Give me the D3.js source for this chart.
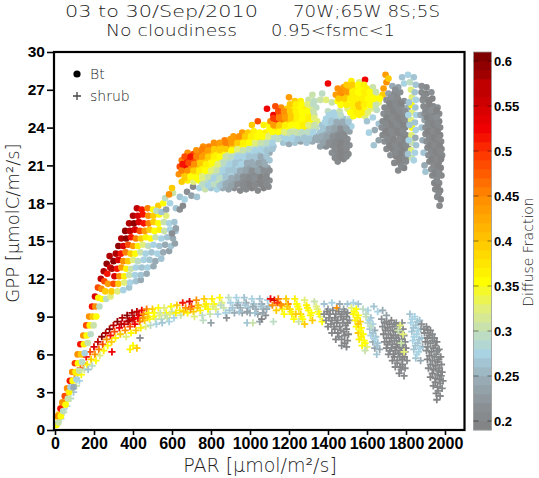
<!DOCTYPE html>
<html>
<head>
<meta charset="utf-8">
<script src="https://cdn.jsdelivr.net/npm/d3@7"></script>
<style>
  body { margin: 0; background: white; }
</style>
</head>
<body>
<div id="container"></div>
<script>
let w = 539;
let h = 478;

let xTicks = [0, 200, 400, 600, 800, 1000, 1200, 1400, 1600, 1800, 2000];
let yTicks = [0, 3, 6, 9, 12, 15, 18, 21, 24, 27, 30];
let cbTicks = [0.2, 0.25, 0.3, 0.35, 0.4, 0.45, 0.5, 0.55, 0.6];
let legendNames = ["Bt", "shrub"];
let titleLeft = ["03 to 30/Sep/2010", "No cloudiness"];
let titleRight = ["70W;65W 8S;5S", "0.95<fsmc<1"];

// [PAR, GPP, diffuse fraction]
let btPoints = [
  // rise from origin
  [8,0.4,.36],[15,1.1,.45],[18,0.6,.31],[28,1.7,.52],[30,1.1,.36],[38,2.2,.45],[42,1.5,.30],[50,2.7,.49],[54,2.0,.36],
  [62,3.3,.45],[66,2.5,.31],[72,3.0,.37],[76,3.9,.52],[80,3.4,.28],[88,4.6,.45],[90,3.9,.36],[95,3.4,.25],[102,5.3,.50],
  [105,4.6,.37],[110,4.0,.28],[116,6.0,.45],[118,5.3,.36],[124,4.7,.31],[130,6.8,.52],[133,6.0,.40],[138,5.4,.30],
  [145,7.5,.45],[148,6.8,.37],[152,6.1,.28],[160,8.3,.49],[162,7.5,.36],[168,6.9,.31],[175,9.0,.45],[178,8.3,.37],
  [183,7.6,.30],[190,9.8,.52],[193,9.0,.40],[198,8.3,.31],[205,10.6,.55],[207,9.8,.45],[212,9.0,.36],[220,11.3,.49],
  [222,10.5,.37],[228,9.8,.30],[235,12.0,.57],[238,11.2,.45],[243,10.4,.36],[250,12.6,.58],[253,11.8,.49],[258,11.0,.40],
  [262,10.4,.30],[265,13.2,.60],[268,12.4,.52],[272,11.6,.44],[280,13.8,.58],[283,12.9,.55],[285,10.6,.33],
  // lower blob
  [290,11.0,.40],[320,11.0,.33],[350,11.1,.28],[380,11.3,.27],
  [300,11.6,.49],[325,11.6,.40],[355,11.7,.33],[385,11.7,.28],[415,11.8,.27],[440,11.9,.25],
  [305,12.2,.55],[330,12.2,.45],[355,12.2,.37],[380,12.3,.31],[410,12.3,.28],[440,12.3,.27],[470,12.4,.25],
  [292,12.8,.58],[318,12.8,.52],[340,12.9,.44],[365,12.8,.37],[390,12.8,.31],[415,12.9,.28],[445,12.9,.27],[475,12.9,.28],[505,13.0,.25],
  [300,13.4,.60],[325,13.5,.55],[350,13.4,.45],[375,13.4,.40],[400,13.5,.33],[425,13.4,.30],[455,13.5,.28],[485,13.5,.27],[515,13.4,.25],[545,13.6,.27],
  [312,14.0,.58],[338,14.0,.52],[362,14.1,.46],[388,14.0,.40],[412,14.0,.36],[438,14.1,.31],[465,14.0,.28],[495,14.1,.27],[525,14.0,.28],[555,14.1,.25],[585,14.2,.24],
  [325,14.6,.60],[350,14.6,.55],[375,14.7,.49],[400,14.6,.44],[425,14.6,.37],[450,14.7,.33],[478,14.6,.30],[505,14.7,.28],[535,14.6,.27],[565,14.7,.25],[595,14.6,.27],[615,14.8,.24],
  [340,15.2,.58],[365,15.2,.60],[390,15.3,.52],[415,15.2,.46],[440,15.2,.40],[465,15.3,.37],[490,15.2,.36],[515,15.3,.31],[545,15.2,.28],[575,15.3,.27],[605,15.2,.25],
  [360,15.8,.60],[385,15.8,.57],[410,15.9,.55],[435,15.8,.49],[460,15.8,.44],[485,15.9,.40],[510,15.8,.36],[535,15.9,.37],[560,15.8,.31],[590,15.9,.28],[618,15.8,.27],
  [380,16.4,.58],[405,16.4,.60],[430,16.5,.55],[455,16.4,.52],[480,16.4,.46],[505,16.5,.40],[530,16.4,.36],[558,16.5,.31],[585,16.4,.28],[612,16.5,.27],
  [400,17.0,.58],[425,17.0,.55],[450,17.1,.52],[478,17.0,.45],[505,17.0,.40],[535,17.1,.36],[570,17.0,.33],
  [420,17.6,.57],[445,17.5,.52],[475,17.6,.46],[620,16.0,.24],[600,15.6,.22],
  // sparse bridge
  [503,17.5,.36],[530,17.8,.40],[555,18.0,.36],[565,18.4,.30],[590,18.0,.28],[605,18.8,.31],[620,17.6,.27],[640,17.5,.22],
  [656,17.8,.21],[640,18.5,.27],[665,18.3,.28],[677,18.9,.22],[700,18.6,.24],[708,19.3,.21],[728,18.5,.27],[600,19.2,.40],
  [585,18.7,.45],[520,17.4,.30],[545,17.3,.27],[570,17.5,.24],
  // main band
  [740,19.2,.28],[770,19.1,.31],[800,19.2,.27],[830,19.1,.28],[860,19.2,.25],[890,19.1,.24],[920,19.2,.22],[950,19.0,.21],[980,19.1,.21],[1010,19.2,.20],[1040,19.0,.21],[1070,19.2,.20],[1095,19.3,.21],
  [650,19.7,.40],[680,19.8,.37],[710,19.7,.33],[740,19.8,.36],[770,19.7,.30],[800,19.8,.28],[830,19.7,.31],[860,19.8,.27],[890,19.7,.25],[920,19.8,.24],[950,19.7,.22],[980,19.8,.21],[1010,19.7,.22],[1040,19.8,.20],[1070,19.7,.21],[1100,19.8,.22],
  [635,20.3,.45],[665,20.3,.40],[695,20.4,.36],[725,20.3,.37],[755,20.3,.33],[785,20.4,.36],[815,20.3,.30],[845,20.3,.28],[875,20.4,.27],[905,20.3,.28],[935,20.3,.25],[965,20.4,.24],[995,20.3,.22],[1025,20.3,.21],[1055,20.4,.24],[1085,20.3,.21],
  [640,20.9,.49],[670,20.8,.53],[700,20.9,.45],[730,20.8,.40],[760,20.9,.37],[790,20.8,.36],[820,20.9,.33],[850,20.8,.30],[880,20.9,.28],[910,20.8,.27],[940,20.9,.28],[970,20.8,.25],[1000,20.9,.24],[1030,20.8,.25],[1060,20.9,.22],[1090,20.8,.24],
  [650,21.4,.46],[680,21.4,.52],[710,21.5,.49],[740,21.4,.44],[770,21.4,.40],[800,21.5,.37],[830,21.4,.36],[860,21.4,.31],[890,21.5,.30],[920,21.4,.28],[950,21.4,.27],[980,21.5,.28],[1010,21.4,.25],[1040,21.4,.27],[1070,21.5,.25],[1100,21.4,.27],
  [680,22.0,.45],[710,21.9,.49],[740,22.0,.46],[770,21.9,.44],[800,22.0,.40],[830,21.9,.37],[860,22.0,.36],[890,21.9,.33],[920,22.0,.31],[950,21.9,.30],[980,22.0,.28],[1010,21.9,.28],[1040,22.0,.27],[1070,21.9,.28],[1100,22.0,.25],
  [760,22.5,.45],[790,22.5,.46],[820,22.6,.44],[850,22.5,.40],[880,22.5,.45],[910,22.6,.40],[940,22.5,.37],[970,22.5,.36],[1000,22.6,.33],[1030,22.5,.31],[1060,22.5,.30],[1090,22.6,.28],[1120,22.5,.27],
  [870,23.0,.46],[900,23.1,.44],[930,23.0,.45],[960,23.1,.40],[990,23.0,.37],[1020,23.1,.36],[1050,23.0,.37],[1080,23.1,.33],[1110,23.0,.30],[1140,23.1,.28],
  [960,23.6,.44],[990,23.6,.40],[1020,23.7,.37],[1050,23.6,.36],[1080,23.6,.37],[1110,23.7,.33],
  [1010,24.2,.40],[1040,24.5,.49],[1070,24.2,.37],[1100,24.3,.36],[1087,25.5,.53],
  [755,19.5,.30],[785,19.4,.28],[815,19.5,.30],[845,19.4,.27],[875,19.5,.25],[905,19.4,.24],[935,19.5,.22],[965,19.4,.21],[995,19.5,.20],[1025,19.4,.21],[1055,19.5,.20],[1085,19.5,.21],
  [665,20.0,.40],[695,20.1,.36],[725,20.0,.36],[755,20.0,.33],[785,20.1,.31],[815,20.0,.28],[845,20.0,.30],[875,20.1,.27],[905,20.0,.25],[935,20.0,.24],[965,20.1,.22],[995,20.0,.21],[1025,20.0,.22],[1055,20.1,.20],[1085,20.0,.21],
  [650,20.6,.46],[680,20.6,.45],[710,20.6,.40],[740,20.6,.37],[770,20.6,.36],[800,20.6,.33],[830,20.6,.31],[860,20.6,.28],[890,20.6,.27],[920,20.6,.27],[950,20.6,.25],[980,20.6,.24],[1010,20.6,.22],[1040,20.6,.24],[1070,20.6,.22],[1100,20.6,.22],
  [655,21.1,.52],[685,21.2,.49],[715,21.1,.45],[745,21.2,.40],[775,21.1,.37],[805,21.2,.36],[835,21.1,.33],[865,21.2,.30],[895,21.1,.28],[925,21.2,.27],[955,21.1,.28],[985,21.2,.25],[1015,21.1,.25],[1045,21.2,.24],[1075,21.1,.25],
  [665,21.7,.49],[695,21.7,.52],[725,21.7,.46],[755,21.7,.44],[785,21.7,.40],[815,21.7,.37],[845,21.7,.36],[875,21.7,.31],[905,21.7,.30],[935,21.7,.28],[965,21.7,.28],[995,21.7,.27],[1025,21.7,.27],[1055,21.7,.25],[1085,21.7,.27],
  [725,22.2,.45],[755,22.3,.46],[785,22.2,.44],[815,22.3,.40],[845,22.2,.40],[875,22.3,.40],[905,22.2,.36],[935,22.3,.33],[965,22.2,.31],[995,22.3,.30],[1025,22.2,.28],[1055,22.3,.28],[1085,22.2,.27],[1115,22.3,.27],
  [815,22.8,.45],[845,22.8,.44],[875,22.8,.46],[905,22.8,.44],[935,22.8,.40],[965,22.8,.37],[995,22.8,.36],[1025,22.8,.33],[1055,22.8,.31],[1085,22.8,.30],[1115,22.8,.28],
  [915,23.3,.44],[945,23.3,.45],[975,23.3,.40],[1005,23.3,.37],[1035,23.3,.36],[1065,23.3,.36],[1095,23.3,.33],[1125,23.3,.30],
  // upper strip
  [1170,22.8,.27],[1200,22.7,.25],[1230,22.8,.27],[1260,22.9,.24],[1290,22.8,.27],[1320,22.9,.25],
  [1130,23.4,.30],[1160,23.3,.28],[1190,23.4,.31],[1220,23.3,.28],[1250,23.4,.30],[1280,23.3,.27],[1310,23.4,.28],[1340,23.3,.25],
  [1100,23.9,.36],[1130,23.9,.40],[1160,24.0,.37],[1190,23.9,.36],[1220,23.9,.33],[1250,24.0,.36],[1280,23.9,.37],[1310,23.9,.31],[1340,24.0,.30],
  [1105,24.5,.45],[1135,24.4,.50],[1165,24.5,.46],[1195,24.4,.40],[1225,24.5,.37],[1255,24.4,.36],[1285,24.5,.37],[1315,24.4,.36],[1345,24.5,.33],
  [1120,25.0,.53],[1150,25.0,.46],[1180,25.1,.44],[1210,25.0,.40],[1240,25.0,.37],[1270,25.1,.36],[1300,25.0,.37],[1330,25.0,.31],
  [1160,25.6,.45],[1190,25.5,.40],[1220,25.6,.37],[1250,25.5,.36],[1280,25.6,.37],[1310,25.5,.33],[1340,25.6,.30],
  [1230,26.1,.40],[1260,26.1,.37],[1300,26.2,.31],[1330,26.1,.30],[1360,26.2,.31],
  [1400,27.5,.53],[1200,26.4,.44],[1130,25.7,.49],[1320,26.6,.31],[1370,26.7,.30],[1390,26.2,.33],
  [1145,23.1,.30],[1185,23.1,.28],[1215,23.1,.28],[1245,23.1,.27],[1275,23.1,.27],[1305,23.1,.27],[1335,23.1,.25],
  [1115,23.65,.36],[1145,23.65,.36],[1175,23.65,.33],[1205,23.65,.31],[1235,23.65,.31],[1265,23.65,.30],[1295,23.65,.30],[1325,23.65,.28],
  [1120,24.2,.44],[1150,24.2,.40],[1180,24.2,.37],[1210,24.2,.36],[1240,24.2,.36],[1270,24.2,.37],[1300,24.2,.33],[1330,24.2,.31],
  [1120,24.75,.50],[1150,24.75,.46],[1180,24.75,.44],[1210,24.75,.40],[1240,24.75,.37],[1270,24.75,.36],[1300,24.75,.37],[1330,24.75,.33],
  [1145,25.3,.49],[1175,25.3,.45],[1205,25.3,.40],[1235,25.3,.37],[1265,25.3,.36],[1295,25.3,.36],[1325,25.3,.31],
  [1205,25.85,.40],[1235,25.85,.37],[1265,25.85,.36],[1295,25.85,.33],[1325,25.85,.30],
  // grey-blue cluster near 1450
  [1450,21.3,.21],[1480,21.5,.20],
  [1420,22.0,.22],[1450,21.9,.21],[1480,22.0,.20],[1505,21.9,.21],
  [1360,22.5,.24],[1390,22.5,.22],[1420,22.6,.21],[1450,22.5,.20],[1480,22.5,.21],[1510,22.6,.22],
  [1350,23.0,.25],[1380,23.1,.24],[1410,23.0,.22],[1440,23.1,.20],[1470,23.0,.21],[1500,23.1,.22],
  [1360,23.6,.27],[1390,23.6,.25],[1420,23.7,.24],[1450,23.6,.22],[1480,23.6,.21],[1510,23.7,.24],
  [1370,24.2,.27],[1400,24.1,.28],[1430,24.2,.25],[1460,24.1,.24],[1490,24.2,.25],[1520,24.1,.28],
  [1390,24.7,.28],[1420,24.7,.27],[1450,24.8,.28],[1480,24.7,.27],[1510,24.7,.30],
  [1400,25.3,.30],[1430,25.2,.28],[1460,25.3,.31],
  [1435,21.6,.21],[1465,21.7,.20],[1495,21.7,.21],[1435,22.3,.21],[1465,22.2,.20],[1495,22.3,.21],
  [1375,22.8,.24],[1405,22.8,.22],[1435,22.8,.21],[1465,22.8,.20],[1495,22.8,.21],
  [1365,23.3,.25],[1395,23.3,.24],[1425,23.3,.22],[1455,23.3,.21],[1485,23.3,.21],
  [1375,23.9,.27],[1405,23.9,.25],[1435,23.9,.24],[1465,23.9,.22],[1495,23.9,.24],
  [1385,24.45,.28],[1415,24.45,.27],[1445,24.45,.25],[1475,24.45,.25],[1505,24.45,.27],
  [1405,25.0,.28],[1435,25.0,.28],[1465,25.0,.30],
  // yellow / orange top
  [1530,24.9,.36],[1560,25.0,.37],[1590,24.9,.33],
  [1500,25.5,.33],[1530,25.4,.37],[1560,25.5,.40],[1590,25.4,.36],[1620,25.5,.33],[1650,25.4,.30],
  [1420,26.0,.31],[1450,26.1,.36],[1480,26.0,.37],[1510,26.0,.36],[1540,26.1,.37],[1570,26.0,.40],[1600,26.0,.37],[1630,26.1,.36],[1660,26.0,.33],
  [1440,26.6,.44],[1470,26.5,.46],[1500,26.6,.40],[1530,26.5,.37],[1560,26.6,.36],[1590,26.5,.37],[1620,26.6,.36],[1650,26.5,.33],[1680,26.6,.40],
  [1450,27.1,.45],[1480,27.2,.44],[1510,27.1,.40],[1540,27.1,.37],[1570,27.2,.36],[1600,27.1,.37],[1630,27.2,.31],[1685,27.1,.44],[1700,27.6,.45],
  [1520,27.7,.37],[1560,27.6,.33],[1590,27.8,.53],[1695,28.2,.44],[1710,27.9,.40],
  [1515,25.2,.36],[1545,25.2,.37],[1575,25.2,.37],[1605,25.2,.33],
  [1465,25.8,.36],[1495,25.8,.37],[1525,25.8,.37],[1555,25.8,.40],[1585,25.8,.37],[1615,25.8,.36],[1645,25.8,.31],
  [1455,26.3,.40],[1485,26.3,.40],[1515,26.3,.37],[1545,26.3,.37],[1575,26.3,.37],[1605,26.3,.36],[1635,26.3,.36],[1665,26.3,.36],
  [1465,26.85,.45],[1495,26.85,.44],[1525,26.85,.37],[1555,26.85,.36],[1585,26.85,.37],[1615,26.85,.36],[1645,26.85,.31],
  [1495,27.4,.40],[1525,27.4,.40],[1555,27.4,.36],[1585,27.4,.37],
  [1600,24.5,.27],[1630,24.8,.28],[1660,24.3,.27],[1640,23.8,.25],[1610,23.6,.28],[1660,23.0,.24],[1635,22.6,.27],
  // grey column near 1750
  [1760,20.6,.21],[1790,20.8,.20],
  [1740,21.2,.21],[1770,21.2,.20],[1800,21.3,.21],
  [1720,21.8,.22],[1750,21.7,.20],[1780,21.8,.21],[1810,21.7,.20],
  [1700,22.3,.21],[1730,22.3,.20],[1760,22.4,.21],[1790,22.3,.20],[1815,22.3,.22],
  [1690,22.9,.22],[1720,22.8,.21],[1750,22.9,.20],[1780,22.8,.21],[1810,22.9,.20],
  [1680,23.4,.21],[1710,23.4,.20],[1740,23.5,.21],[1770,23.4,.20],[1800,23.4,.21],
  [1675,24.0,.22],[1705,23.9,.21],[1735,24.0,.20],[1765,23.9,.21],[1795,24.0,.20],
  [1680,24.5,.21],[1710,24.5,.20],[1740,24.6,.21],[1770,24.5,.20],[1800,24.5,.22],
  [1685,25.1,.22],[1715,25.0,.21],[1745,25.1,.20],[1775,25.0,.21],[1805,25.1,.24],
  [1690,25.6,.21],[1720,25.6,.20],[1750,25.7,.21],[1780,25.6,.22],[1810,25.6,.25],
  [1700,26.2,.22],[1730,26.1,.21],[1760,26.2,.20],[1790,26.1,.22],
  [1710,26.7,.24],[1740,26.7,.21],[1770,26.8,.22],
  [1730,27.3,.25],[1760,27.2,.24],
  [1775,21.0,.21],[1765,21.5,.20],[1795,21.5,.21],[1745,22.0,.21],[1775,22.0,.20],[1800,22.0,.21],
  [1715,22.6,.20],[1745,22.6,.21],[1775,22.6,.20],[1800,22.6,.21],[1705,23.1,.21],[1735,23.1,.20],[1765,23.1,.21],[1795,23.1,.20],
  [1695,23.7,.20],[1725,23.7,.21],[1755,23.7,.20],[1785,23.7,.21],[1695,24.3,.21],[1725,24.2,.20],[1755,24.2,.21],[1785,24.2,.20],
  [1700,24.8,.20],[1730,24.8,.21],[1760,24.8,.20],[1790,24.8,.21],[1705,25.3,.21],[1735,25.3,.20],[1765,25.3,.21],[1795,25.3,.22],
  [1715,25.9,.20],[1745,25.9,.21],[1775,25.9,.20],[1725,26.4,.22],[1755,26.4,.21],[1745,27.0,.22],
  // light blue column near 1830
  [1780,28.0,.27],[1810,28.2,.28],[1840,28.0,.27],[1790,27.5,.28],[1820,27.6,.30],[1850,27.4,.27],
  [1825,27.0,.33],[1830,26.4,.33],[1828,25.8,.36],[1832,25.2,.33],[1826,24.6,.33],[1830,24.0,.36],[1828,23.4,.33],[1832,22.8,.31],[1826,22.2,.33],[1830,21.6,.31],
  [1845,26.8,.27],[1850,26.2,.28],[1848,25.6,.27],[1852,25.0,.28],[1846,24.4,.27],[1850,23.8,.28],[1848,23.2,.25],[1852,22.6,.27],[1846,22.0,.28],
  [1815,26.0,.27],[1812,25.0,.28],[1818,24.2,.27],[1814,23.0,.28],[1810,21.9,.27],[1840,21.4,.28],
  // grey column near 1940
  [1875,25.0,.25],[1880,24.0,.27],[1885,23.0,.25],[1890,22.0,.27],[1895,21.0,.25],[1900,20.5,.27],
  [1880,27.3,.22],[1905,27.2,.21],
  [1880,26.8,.21],[1905,26.7,.20],[1930,26.8,.22],
  [1885,26.2,.22],[1910,26.2,.21],[1935,26.3,.20],
  [1890,25.7,.21],[1915,25.6,.20],[1940,25.7,.21],[1962,25.6,.22],
  [1895,25.1,.22],[1920,25.1,.21],[1945,25.2,.20],[1970,25.1,.21],
  [1895,24.6,.24],[1920,24.5,.20],[1945,24.6,.21],[1970,24.5,.20],
  [1900,24.0,.22],[1925,24.0,.21],[1950,24.1,.20],[1975,24.0,.21],
  [1900,23.5,.21],[1925,23.4,.20],[1950,23.5,.21],[1975,23.4,.20],
  [1905,22.9,.22],[1930,22.9,.21],[1955,23.0,.20],[1980,22.9,.21],
  [1910,22.4,.21],[1935,22.3,.20],[1960,22.4,.21],[1982,22.3,.20],
  [1915,21.8,.22],[1940,21.8,.21],[1965,21.9,.20],[1985,21.8,.21],
  [1920,21.3,.21],[1945,21.2,.20],[1970,21.3,.21],
  [1930,20.7,.22],[1955,20.7,.21],[1978,20.8,.20],
  [1935,20.2,.21],[1960,20.1,.20],[1982,20.2,.21],
  [1945,19.6,.20],[1970,19.6,.21],
  [1950,19.1,.21],[1975,19.0,.20],
  [1960,18.5,.21],[1978,18.3,.20],[1972,17.8,.21],
  [1892,26.5,.21],[1918,26.0,.20],[1900,25.4,.21],[1932,25.4,.22],[1957,25.4,.20],[1908,24.8,.20],[1932,24.8,.21],[1958,24.8,.22],
  [1912,24.3,.21],[1938,24.3,.20],[1962,24.3,.21],[1912,23.7,.20],[1938,23.7,.21],[1962,23.7,.20],[1918,23.2,.21],[1942,23.2,.20],
  [1967,23.2,.21],[1922,22.6,.20],[1948,22.6,.21],[1972,22.6,.20],[1928,22.1,.21],[1952,22.1,.20],[1975,22.1,.21],[1932,21.5,.20],
  [1958,21.5,.21],[1980,21.5,.20],[1942,21.0,.21],[1965,21.0,.20],[1948,20.4,.20],[1970,20.4,.21],[1958,19.9,.21],[1962,19.3,.20],[1968,18.8,.21]
];

let shrubPoints = [
  // rise from origin
  [10,0.5,.31],[15,0.9,.36],[25,1.4,.40],[30,0.9,.28],[40,2.0,.37],[45,1.4,.31],[55,2.6,.45],[60,1.9,.28],[65,2.3,.36],
  [75,3.1,.40],[80,2.5,.30],[90,3.6,.36],[95,3.0,.27],[100,4.1,.45],[110,3.5,.31],[115,4.4,.37],[125,3.9,.28],[130,4.9,.49],
  [135,4.4,.36],[145,5.3,.45],[150,4.8,.31],[160,5.8,.52],[165,5.2,.37],[170,4.8,.27],[180,6.2,.49],[185,5.6,.40],[190,5.1,.30],
  [200,6.6,.55],[205,6.0,.45],[210,5.5,.36],[220,7.0,.57],[225,6.4,.46],[230,5.9,.33],[240,7.4,.60],[245,6.8,.49],[250,6.3,.37],
  [260,7.7,.58],[265,7.2,.45],[270,6.7,.36],[280,8.0,.60],[285,7.5,.52],[290,7.0,.40],[292,6.2,.53],[300,8.3,.57],[305,7.8,.49],[310,7.3,.37],
  // up to 600
  [320,8.6,.60],[330,8.1,.53],[335,7.6,.40],[345,8.9,.58],[355,8.4,.55],[360,7.9,.45],[365,7.4,.33],[370,9.1,.60],[380,8.7,.57],
  [385,8.2,.49],[390,7.7,.36],[395,9.3,.58],[405,8.9,.60],[410,8.4,.53],[415,7.9,.40],[420,9.4,.57],[430,9.1,.55],[435,8.6,.46],
  [440,8.1,.37],[445,9.5,.53],[455,9.2,.45],[460,8.7,.40],[465,8.2,.33],[470,9.6,.46],[480,9.3,.37],[485,8.8,.36],[490,8.3,.30],
  [500,9.6,.40],[510,9.3,.36],[515,8.8,.31],[520,8.4,.28],[530,9.7,.36],[540,9.3,.31],[545,8.8,.30],[550,8.5,.27],[560,9.7,.33],
  [570,9.3,.36],[575,8.9,.31],[585,8.6,.28],[595,9.8,.36],[600,9.4,.31],[610,8.9,.28],
  [385,6.4,.37],[400,6.7,.36],[420,6.5,.40],[436,7.3,.22],
  [340,8.4,.57],[375,8.6,.58],[400,8.8,.55],[425,8.9,.53],[450,8.9,.45],[475,9.0,.40],[505,9.0,.36],[535,9.1,.33],[565,9.1,.31],[590,9.2,.33],
  // 620 - 880
  [625,9.9,.40],[640,9.5,.37],[645,9.1,.31],[655,10.1,.52],[670,9.7,.45],[680,9.3,.37],[690,10.2,.55],[700,9.8,.49],[710,9.4,.40],
  [715,9.0,.33],[725,10.3,.45],[735,9.9,.40],[745,9.5,.37],[755,9.1,.30],[765,10.4,.40],[775,10.0,.37],[785,9.6,.36],[795,9.2,.31],
  [805,10.4,.37],[815,10.0,.36],[825,9.6,.33],[835,9.2,.28],[845,10.5,.36],[855,10.1,.33],[865,9.7,.31],[875,9.3,.28],[880,8.9,.22],
  [800,8.5,.24],[760,8.7,.30],
  [620,9.3,.37],[660,9.4,.40],[695,9.6,.45],[730,9.7,.40],[770,9.8,.37],[810,9.8,.33],[850,9.9,.30],
  // 880 - 1100
  [890,10.5,.30],[900,10.1,.28],[910,9.7,.27],[920,9.3,.25],[930,10.5,.28],[940,10.1,.27],[950,9.7,.25],[960,9.3,.24],
  [970,10.5,.27],[980,10.1,.25],[990,9.7,.27],[1000,9.3,.25],[1010,10.4,.28],[1020,10.0,.27],[1030,9.6,.25],[1040,9.2,.24],
  [1050,10.4,.27],[1060,10.0,.25],[1070,9.6,.24],[1080,9.1,.22],[1090,10.3,.28],[1095,9.8,.27],
  [985,8.5,.27],[1050,8.6,.24],[1060,8.8,.20],[1015,8.5,.31],[1120,8.6,.30],
  [895,9.5,.27],[935,9.9,.25],[945,9.4,.27],[975,9.9,.27],[985,9.4,.24],[1015,9.8,.25],[1025,9.3,.27],[1055,9.8,.27],[1065,9.3,.24],[1085,9.6,.25],
  // 1100 - 1374
  [1105,10.4,.53],[1125,10.3,.55],[1115,9.9,.45],[1135,9.5,.40],[1145,10.4,.46],[1155,10.0,.44],[1165,9.6,.37],[1175,9.2,.36],
  [1185,10.4,.40],[1195,10.0,.45],[1205,9.6,.40],[1215,9.2,.37],[1225,8.8,.36],[1230,10.4,.37],[1240,10.0,.36],[1250,9.6,.37],
  [1260,9.2,.40],[1270,8.8,.36],[1280,10.3,.33],[1290,9.9,.37],[1300,9.5,.36],[1310,9.1,.37],[1320,8.7,.40],[1330,10.2,.31],
  [1340,9.8,.33],[1350,9.4,.36],[1360,9.0,.33],[1370,8.6,.36],[1280,8.4,.40],[1250,8.6,.31],
  [1140,10.1,.50],[1160,9.9,.45],[1190,9.8,.40],[1210,9.4,.37],[1245,9.8,.36],[1265,9.0,.36],[1295,9.7,.37],[1315,9.3,.36],[1345,9.6,.33],[1355,9.2,.36],[1235,9.2,.40],
  // grey cluster near 1450
  [1380,10.0,.27],[1400,9.6,.24],[1420,10.1,.28],[1445,9.7,.45],[1460,10.0,.25],[1480,9.6,.24],[1500,10.0,.27],
  [1380,9.2,.21],[1410,9.2,.20],[1440,9.2,.21],[1470,9.2,.20],[1500,9.3,.21],
  [1390,8.7,.21],[1420,8.7,.20],[1450,8.7,.21],[1480,8.8,.20],[1510,8.7,.22],
  [1400,8.2,.20],[1430,8.2,.21],[1460,8.2,.20],[1490,8.3,.21],
  [1420,7.7,.21],[1450,7.7,.20],[1480,7.8,.21],[1505,7.6,.20],
  [1440,7.2,.20],[1470,7.2,.21],[1500,7.1,.20],[1470,6.7,.21],[1495,6.6,.20],
  [1530,10.1,.28],[1555,10.0,.27],
  [1395,9.4,.20],[1425,9.5,.21],[1455,9.4,.20],[1485,9.4,.21],[1405,8.9,.21],[1435,8.9,.20],[1465,9.0,.21],[1495,9.0,.20],
  [1415,8.4,.21],[1445,8.5,.20],[1475,8.5,.21],[1500,8.5,.20],[1435,8.0,.20],[1465,7.9,.21],[1495,8.0,.20],[1455,7.4,.21],
  [1485,7.5,.20],[1485,6.9,.20],
  // yellow and light blue near 1600
  [1520,9.7,.33],[1545,9.6,.36],[1530,9.2,.37],[1555,9.1,.36],[1540,8.7,.37],[1565,8.6,.40],[1545,8.2,.36],[1570,8.1,.37],
  [1555,7.7,.40],[1580,7.6,.36],[1560,7.2,.37],[1585,7.1,.36],[1575,6.7,.36],[1600,6.6,.33],[1590,6.3,.31],
  [1580,9.6,.30],[1605,9.5,.28],[1595,9.0,.31],[1620,8.9,.27],[1605,8.5,.30],[1630,8.4,.28],[1615,8.0,.27],[1640,7.9,.25],
  [1620,7.5,.28],[1645,7.4,.27],[1630,7.0,.25],[1655,6.9,.27],[1640,6.5,.24],[1665,6.4,.25],[1650,6.0,.27],
  [1635,9.8,.27],[1655,9.4,.28],[1680,9.5,.25],[1700,9.1,.24],
  [1535,9.4,.36],[1550,8.9,.37],[1555,8.4,.40],[1565,7.9,.36],[1570,7.4,.37],[1590,6.9,.36],
  [1595,9.2,.30],[1612,8.7,.28],[1620,8.2,.30],[1630,7.7,.27],[1640,7.2,.28],[1650,6.7,.27],
  // grey near 1750
  [1675,8.8,.22],[1700,8.6,.21],[1725,8.7,.20],[1750,8.5,.21],[1780,8.5,.22],
  [1680,8.2,.21],[1705,8.1,.20],[1730,8.2,.21],[1755,8.0,.20],[1785,8.0,.21],
  [1685,7.6,.20],[1710,7.6,.21],[1735,7.5,.20],[1760,7.5,.21],[1790,7.5,.22],
  [1690,7.0,.21],[1715,7.0,.20],[1740,7.1,.21],[1765,7.0,.20],[1795,7.0,.21],
  [1700,6.5,.20],[1725,6.5,.21],[1750,6.6,.20],[1775,6.5,.21],[1800,6.5,.20],
  [1710,6.0,.21],[1735,6.0,.20],[1760,6.1,.21],[1785,6.0,.20],
  [1730,5.5,.20],[1755,5.5,.21],[1780,5.6,.20],[1805,5.5,.21],
  [1745,5.0,.21],[1770,5.0,.20],[1795,4.9,.21],[1765,4.5,.20],[1790,4.3,.21],
  [1690,8.5,.21],[1715,8.4,.20],[1740,8.4,.21],[1765,8.3,.20],[1695,7.9,.20],[1720,7.9,.21],[1745,7.8,.20],[1772,7.8,.21],
  [1700,7.3,.21],[1725,7.3,.20],[1750,7.3,.21],[1778,7.2,.20],[1705,6.8,.20],[1730,6.8,.21],[1757,6.8,.20],[1785,6.7,.21],
  [1718,6.3,.21],[1745,6.3,.20],[1770,6.3,.21],[1795,6.2,.20],[1740,5.8,.20],[1768,5.8,.21],[1792,5.8,.20],[1755,5.3,.21],
  [1782,5.2,.20],[1775,4.8,.21],
  [1770,8.3,.33],[1785,7.6,.33],[1775,6.9,.31],[1790,6.2,.33],[1760,7.9,.31],
  // light blue near 1850
  [1820,9.2,.27],[1845,9.0,.28],[1870,8.7,.27],[1825,8.5,.28],[1850,8.3,.27],[1875,8.0,.25],[1830,7.8,.27],[1855,7.6,.28],
  [1880,7.3,.27],[1835,7.1,.28],[1860,6.9,.27],[1885,6.6,.25],[1840,6.4,.27],[1865,6.2,.28],[1850,5.7,.27],[1875,5.5,.25],
  [1832,8.8,.28],[1858,8.6,.27],[1838,8.1,.27],[1862,7.9,.28],[1842,7.4,.28],[1868,7.2,.27],[1848,6.7,.27],[1872,6.5,.28],[1855,6.0,.28],
  // grey tail near 1950
  [1880,8.4,.22],[1905,8.2,.21],[1925,7.9,.20],
  [1895,7.7,.21],[1920,7.5,.20],[1945,7.3,.21],
  [1900,7.0,.20],[1925,6.9,.21],[1950,6.7,.20],[1970,6.4,.21],
  [1905,6.3,.21],[1930,6.2,.20],[1955,6.0,.21],[1978,5.8,.20],
  [1910,5.6,.20],[1935,5.5,.21],[1960,5.4,.20],[1982,5.2,.21],
  [1915,4.9,.21],[1940,4.8,.20],[1965,4.7,.21],[1985,4.6,.20],
  [1925,4.2,.20],[1950,4.1,.21],[1972,4.0,.20],[1990,3.9,.21],
  [1940,3.5,.21],[1962,3.4,.20],[1985,3.3,.21],
  [1955,2.9,.20],[1975,2.7,.21],[1958,2.4,.20],
  [1892,8.0,.21],[1912,7.9,.20],[1935,7.6,.21],[1910,7.3,.20],[1935,7.1,.21],[1958,7.0,.20],[1912,6.6,.21],[1940,6.5,.20],
  [1962,6.3,.21],[1920,5.9,.20],[1945,5.8,.21],[1968,5.6,.20],[1925,5.2,.21],[1950,5.1,.20],[1972,4.9,.21],[1935,4.5,.20],
  [1960,4.4,.21],[1980,4.3,.20],[1950,3.8,.20],[1975,3.7,.21],[1965,3.1,.21]
];

let viz = d3.select("#container")
  .append("svg")
    .attr("width", w)
    .attr("height", h)
    .style("background-color", "white")
;

let x = d3.scaleLinear().domain([0, 2100]).range([55, 464.5]);
let y = d3.scaleLinear().domain([0, 30]).range([430, 52]);
let cb = d3.scaleLinear().domain([0.19, 0.61]).range([430, 52]);

let color = d3.scaleLinear()
  .domain([0.19, 0.22, 0.25, 0.28, 0.30, 0.33, 0.36, 0.40, 0.45, 0.50, 0.53, 0.57, 0.61])
  .range(["#7f7f7f", "#8a8f93", "#98aab4", "#a9d3e3", "#bddcc4", "#e2ee7a", "#ffff00",
          "#ffcc00", "#ff9000", "#ff3a00", "#f00000", "#c00000", "#800000"])
  .clamp(true);

function dfColor(v){
  return color(Math.round(v * 100) / 100);
}

// shrub crosses
viz.append("g")
  .selectAll("path")
  .data(shrubPoints)
  .enter()
  .append("path")
    .attr("d", "M -3.6 0 H 3.6 M 0 -3.6 V 3.6")
    .attr("transform", d => "translate(" + x(d[0]) + "," + y(d[1]) + ")")
    .style("stroke", d => dfColor(d[2]))
    .style("stroke-width", 1.8)
;

// Bt dots
viz.append("g")
  .selectAll("circle")
  .data(btPoints)
  .enter()
  .append("circle")
    .attr("cx", d => x(d[0]))
    .attr("cy", d => y(d[1]))
    .attr("r", 3.3)
    .style("fill", d => dfColor(d[2]))
;

// axes
let xAxis = viz.append("g")
  .attr("transform", "translate(0,430)")
  .call(d3.axisBottom(x).tickValues(xTicks).tickFormat(d3.format("d")).tickSize(5).tickPadding(3));
let yAxis = viz.append("g")
  .attr("transform", "translate(54,0)")
  .call(d3.axisLeft(y).tickValues(yTicks).tickFormat(d3.format("d")).tickSize(7).tickPadding(2));

[xAxis, yAxis].forEach(a => {
  a.select(".domain").remove();
  a.selectAll("line").style("stroke", "black").style("stroke-width", 1.6);
  a.selectAll("text")
    .style("font-family", "Liberation Sans, Arial, sans-serif")
    .style("font-weight", "bold")
    .style("fill", "black");
});
xAxis.selectAll("text").style("font-size", "16px");
yAxis.selectAll("text").style("font-size", "15.5px");

viz.append("rect")
    .attr("x", 54)
    .attr("y", 52)
    .attr("width", 410.5)
    .attr("height", 378)
    .attr("fill", "none")
    .style("stroke", "black")
    .style("stroke-width", 2.2)
;

// titles
let tFont = "DejaVu Sans, sans-serif";
let leftX = [65, 106];
let leftLen = [193, 131];
let rightX = [293, 271];
let rightLen = [147, 124];
titleLeft.forEach((t, i) => {
  viz.append("text")
    .text(t)
    .attr("x", leftX[i])
    .attr("y", 17 + i * 18.5)
    .attr("textLength", leftLen[i])
    .attr("lengthAdjust", "spacingAndGlyphs")
    .attr("fill", "#222")
    .style("font-size", 15.8)
    .style("font-weight", 200)
    .style("font-family", tFont);
  viz.append("text")
    .text(titleRight[i])
    .attr("x", rightX[i])
    .attr("y", 17 + i * 18.5)
    .attr("textLength", rightLen[i])
    .attr("lengthAdjust", "spacingAndGlyphs")
    .attr("fill", "#222")
    .style("font-size", 15.8)
    .style("font-weight", 200)
    .style("font-family", tFont);
});

viz.append("text")
    .text("PAR [μmol/m²/s]")
    .attr("x", 260)
    .attr("y", 472)
    .attr("text-anchor", "middle")
    .attr("fill", "#222")
    .style("font-size", 19)
    .style("font-weight", 200)
    .style("font-family", tFont)
;

viz.append("text")
    .text("GPP [μmolC/m²/s]")
    .attr("transform", "translate(19,223) rotate(-90)")
    .attr("text-anchor", "middle")
    .attr("fill", "#222")
    .style("font-size", 18)
    .style("font-weight", 200)
    .style("font-family", tFont)
;

// legend
viz.append("circle")
    .attr("cx", 77)
    .attr("cy", 74)
    .attr("r", 3.6)
    .style("fill", "black")
;
viz.append("path")
    .attr("d", "M 73 96 H 81 M 77 92 V 100")
    .style("stroke", "#444")
    .style("stroke-width", 1.3)
;
legendNames.forEach((n, i) => {
  viz.append("text")
    .text(n)
    .attr("x", 90)
    .attr("y", 79 + i * 22)
    .attr("fill", "#222")
    .style("font-size", 14)
    .style("font-weight", 200)
    .style("font-family", tFont);
});

// colour bar
let cbLevels = d3.range(19, 61).map(i => i / 100);
viz.append("g")
  .selectAll("rect")
  .data(cbLevels)
  .enter()
  .append("rect")
    .attr("x", 473.5)
    .attr("y", d => cb(d + 0.01))
    .attr("width", 18)
    .attr("height", d => cb(d) - cb(d + 0.01) + 0.3)
    .attr("fill", d => dfColor(d + 0.005))
;
viz.append("rect")
    .attr("x", 473.5)
    .attr("y", 52)
    .attr("width", 18)
    .attr("height", 378)
    .attr("fill", "none")
    .style("stroke", "#999")
    .style("stroke-width", 0.8)
;
viz.append("g")
  .selectAll("path")
  .data(cbTicks)
  .enter()
  .append("path")
    .attr("d", d => "M 473.5 " + cb(d) + " h 5 M 491.5 " + cb(d) + " h -4")
    .style("stroke", "rgba(0,0,0,0.45)")
    .style("stroke-width", 1)
;
viz.append("g")
  .selectAll("text")
  .data(cbTicks)
  .enter()
  .append("text")
    .text(d => d3.format("")(d))
    .attr("x", 494)
    .attr("y", d => cb(d) + 5)
    .attr("fill", "black")
    .style("font-size", 13)
    .style("font-weight", "bold")
    .style("font-family", "Liberation Sans, Arial, sans-serif")
;

viz.append("text")
    .text("Diffuse Fraction")
    .attr("transform", "translate(533,252) rotate(-90)")
    .attr("text-anchor", "middle")
    .attr("fill", "#222")
    .style("font-size", 14)
    .style("font-weight", 200)
    .style("font-family", tFont)
;
</script>
</body>
</html>
